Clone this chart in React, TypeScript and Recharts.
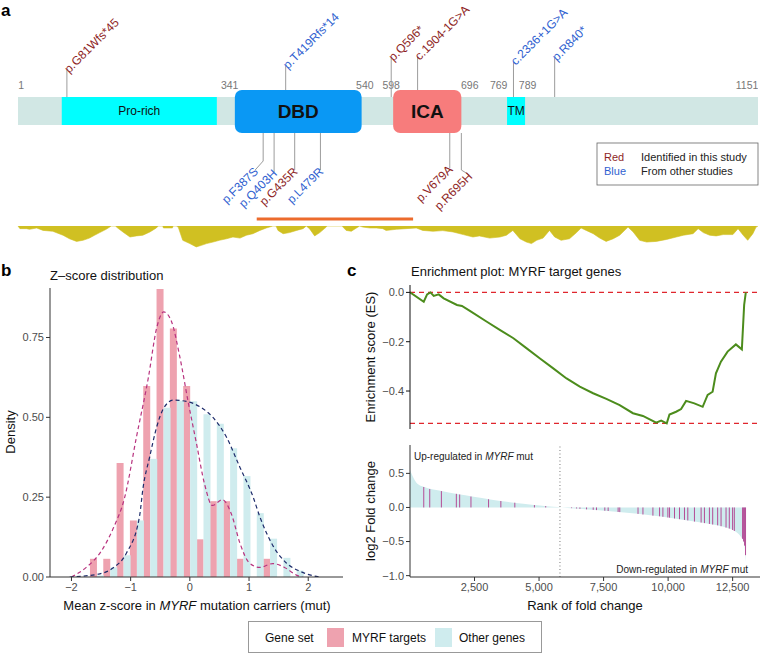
import React from 'react'
import {
  ComposedChart,
  AreaChart,
  Area,
  Bar,
  Line,
  Scatter,
  XAxis,
  YAxis,
  ReferenceArea,
  ReferenceLine,
} from 'recharts'

const FONT = '"Liberation Sans", Arial, Helvetica, sans-serif'
const RED = '#8E1F1F'
const BLUE = '#2F5FD0'
const PINK = '#EEA2AF'
const CYAN = '#CFECEE'
const AXIS_TEXT = '#4D4D4D'
const AXIS_LINE = '#333333'

// ── panel a: MYRF protein (positions in amino acids) ──
const domains = [
  { name: 'Pro-rich', start: 69, end: 310, tall: false, color: '#00FFFF' },
  { name: 'DBD', start: 338, end: 535, tall: true, color: '#0A98F4' },
  { name: 'ICA', start: 584, end: 690, tall: true, color: '#F77C7C' },
  { name: 'TM', start: 761, end: 789, tall: false, color: '#00FFFF' },
]
const boundaryText = ['1', '341', '540', '598', '696', '769', '789', '1151']
const boundaryPos = [6, 330, 540, 581, 703, 748, 793, 1134]

const mutations = [
  { label: 'p.G81Wfs*45', pos: 77, source: 'this', side: 'up' },
  { label: 'p.T419Rfs*14', pos: 417, source: 'other', side: 'up' },
  { label: 'p.Q596*', pos: 581, source: 'this', side: 'up' },
  { label: 'c.1904-1G>A', pos: 622, source: 'this', side: 'up' },
  { label: 'c.2336+1G>A', pos: 771, source: 'other', side: 'up' },
  { label: 'p.R840*', pos: 835, source: 'other', side: 'up' },
  { label: 'p.F387S', pos: 382, source: 'other', side: 'down' },
  { label: 'p.Q403H', pos: 399, source: 'other', side: 'down' },
  { label: 'p.G435R', pos: 431, source: 'this', side: 'down' },
  { label: 'p.L479R', pos: 471, source: 'other', side: 'down' },
  { label: 'p.V679A', pos: 672, source: 'this', side: 'down' },
  { label: 'p.R695H', pos: 690, source: 'this', side: 'down' },
]

// hydropathy-like track under the protein (aa, value)
const hydroPos = [
  1, 4, 14, 19, 30, 40, 55, 71, 81, 92, 102, 112, 120, 128, 138, 146, 153, 154, 164, 175, 185, 195, 206,
  216, 219, 226, 227, 241, 242, 247, 250, 257, 268, 278, 286, 294, 304, 314, 325, 335, 346, 356, 366, 377,
  387, 397, 402, 405, 413, 423, 434, 444, 449, 454, 462, 470, 480, 481, 505, 506, 511, 519, 527, 532, 537,
  548, 558, 568, 573, 589, 604, 620, 630, 646, 661, 677, 693, 708, 718, 734, 750, 760, 770, 781, 791, 799,
  807, 817, 827, 835, 845, 858, 869, 876, 884, 895, 905, 915, 926, 936, 949, 957, 967, 978, 993, 1009,
  1024, 1035, 1050, 1058, 1066, 1076, 1086, 1097, 1112, 1120, 1128, 1135, 1143, 1148, 1151,
]
const hydroValue = [
  0, -0.12, -0.12, -0.15, -0.09, -0.2, -0.24, -0.42, -0.58, -0.7, -0.65, -0.55, -0.42, -0.3, -0.15, 0, 0,
  -0.05, -0.27, -0.5, -0.45, -0.42, -0.27, -0.09, 0, 0, -0.09, -0.09, 0, 0, -0.05, -0.65, -0.8, -0.95,
  -0.88, -0.8, -0.73, -0.65, -0.58, -0.5, -0.55, -0.42, -0.35, -0.2, -0.09, 0, 0, -0.2, -0.35, -0.3,
  -0.2, -0.12, 0, -0.12, -0.45, -0.3, -0.05, 0, 0, -0.05, -0.2, -0.24, -0.09, 0, -0.05, -0.09, -0.09,
  -0.12, -0.2, -0.15, -0.12, -0.09, -0.2, -0.24, -0.21, -0.27, -0.39, -0.5, -0.45, -0.55, -0.5, -0.42,
  -0.2, -0.58, -0.73, -0.8, -0.65, -0.55, -0.2, -0.5, -0.65, -0.58, -0.3, -0.09, -0.2, -0.35, -0.55,
  -0.7, -0.58, -0.42, -0.05, -0.27, -0.65, -0.73, -0.7, -0.61, -0.5, -0.42, -0.35, -0.12, -0.3, -0.42,
  -0.45, -0.39, -0.39, -0.12, -0.42, -0.65, -0.35, -0.05, 0,
]
const focusRegion = [372, 615]

// ── panel b: z-score histogram (bin width 0.225, bin centres) + densities ──
const binMid = [
  -2.25, -2.025, -1.8, -1.575, -1.35, -1.125, -0.9, -0.675, -0.45, -0.225, 0,
  0.225, 0.45, 0.675, 0.9, 1.125, 1.35, 1.575, 1.8, 2.025, 2.25, 2.475,
]
const targetShare = [0, 0, 0, 0.057, 0.057, 0.357, 0.177, 0.598, 0.902, 0.778, 0.598, 0.118, 0.2375, 0.2375, 0.057, 0, 0.057, 0, 0, 0, 0, 0]
const otherShare = [0, 0, 0, 0.005, 0.03, 0.068, 0.177, 0.37, 0.53, 0.552, 0.55, 0.51, 0.48, 0.403, 0.316, 0.2, 0.12, 0.06, 0.02, 0, 0, 0]

const targetDensityZ = [-2, -1.75, -1.5, -1.3, -1.1, -0.9, -0.7, -0.56, -0.44, -0.31, -0.17, -0.03, 0.11, 0.25, 0.38, 0.55, 0.7, 0.85, 1, 1.18, 1.4, 1.6, 1.8, 1.9]
const targetDensity = [0, 0.03, 0.08, 0.15, 0.25, 0.44, 0.625, 0.78, 0.83, 0.8, 0.69, 0.55, 0.42, 0.29, 0.224, 0.242, 0.198, 0.104, 0.045, 0.03, 0.042, 0.03, 0.006, 0]
const otherDensityZ = [-2.03, -1.52, -1.3, -1.07, -0.85, -0.79, -0.68, -0.56, -0.45, -0.28, -0.06, 0.17, 0.39, 0.62, 0.845, 1.07, 1.18, 1.41, 1.63, 1.86, 2.08, 2.2]
const otherDensity = [0, 0.01, 0.028, 0.075, 0.19, 0.28, 0.375, 0.47, 0.526, 0.554, 0.55, 0.533, 0.5, 0.4375, 0.344, 0.25, 0.19, 0.096, 0.044, 0.018, 0.004, 0]

// ── panel c: enrichment score and ranked fold change ──
const esRank = [0, 533, 663, 791, 920, 1112, 1305, 1820, 2013, 2335, 2978, 3493, 4007, 4522, 5036, 5550, 6065, 6579, 7094, 7608, 8123, 8638, 9024, 9538, 9731, 9947, 10053, 10310, 10503, 10696, 11017, 11339, 11532, 11724, 11853, 12046, 12304, 12625, 12857, 12946, 13010]
const esValue = [0, -0.038, -0.008, 0, -0.014, -0.008, -0.024, -0.051, -0.055, -0.076, -0.119, -0.153, -0.186, -0.227, -0.268, -0.308, -0.349, -0.382, -0.409, -0.432, -0.457, -0.49, -0.501, -0.528, -0.52, -0.531, -0.495, -0.484, -0.473, -0.44, -0.45, -0.464, -0.416, -0.403, -0.328, -0.281, -0.24, -0.211, -0.231, -0.051, 0]
const esMin = -0.531

const fcRank = [0, 147, 275, 533, 1177, 1820, 2464, 3107, 3750, 4393, 5036, 5550, 5872, 6579, 7222, 7865, 8509, 9152, 9795, 10438, 11081, 11724, 12239, 12625, 12818, 12946, 13010]
const fcValue = [0.55, 0.426, 0.353, 0.304, 0.245, 0.196, 0.157, 0.118, 0.083, 0.054, 0.029, 0.01, 0, -0.02, -0.039, -0.059, -0.083, -0.108, -0.137, -0.172, -0.211, -0.25, -0.294, -0.358, -0.431, -0.529, -0.8]
const zeroCrossRank = 5810

const targetRank = [533, 765, 1216, 1795, 1924, 2362, 3044, 3520, 4061, 4820, 5257, 6261, 6454, 6583, 6840, 7098, 7226, 7548, 7677, 8063, 8127, 8834, 9025, 9411, 9669, 9798, 9991, 10055, 10248, 10441, 10634, 10763, 11020, 11279, 11407, 11600, 11727, 11920, 12051, 12244, 12371, 12499, 12565, 12885, 12924, 12962, 13000]
const targetFc = [0.3, 0.27, 0.24, 0.2, 0.19, 0.16, 0.12, 0.095, 0.07, 0.035, 0.02, -0.01, -0.015, -0.02, -0.028, -0.035, -0.039, -0.048, -0.052, -0.066, -0.068, -0.095, -0.103, -0.12, -0.13, -0.137, -0.147, -0.15, -0.162, -0.172, -0.183, -0.19, -0.207, -0.222, -0.23, -0.242, -0.25, -0.262, -0.275, -0.295, -0.31, -0.33, -0.345, -0.46, -0.5, -0.56, -0.7]

// ── layout of the schematic in panel a (pixel rows) ──
const ROW = { top: 97, bottom: 125, tallTop: 90, tallBottom: 133, coords: 89 }
const stemTips: Record<string, { y: number; dx?: number; dy?: number }> = {
  'p.G81Wfs*45': { y: 70 },
  'p.T419Rfs*14': { y: 66 },
  'p.Q596*': { y: 58 },
  'c.1904-1G>A': { y: 57 },
  'c.2336+1G>A': { y: 62 },
  'p.R840*': { y: 58 },
  'p.F387S': { y: 161, dx: -8, dy: 9 },
  'p.Q403H': { y: 172 },
  'p.G435R': { y: 170 },
  'p.L479R': { y: 170 },
  'p.V679A': { y: 168 },
  'p.R695H': { y: 170, dx: 8, dy: 5 },
}

const minus = (digits: number) => (v: number) => (v < 0 ? '\u2212' : '') + Math.abs(v).toFixed(digits)
const tickStyle = { fontSize: 11, fill: AXIS_TEXT }

const inTall = (pos: number) => domains.some((d) => d.tall && pos >= d.start && pos <= d.end)

function MutationMark(props: any) {
  const { cx, cy, payload } = props
  if (cx == null || cy == null) return null
  const tip = stemTips[payload.label]
  const up = payload.side === 'up'
  const pts: number[][] = [[cx, cy], [cx, tip.y]]
  if (tip.dx) pts.push([cx + tip.dx, tip.y + (tip.dy || 0)])
  const [tx, ty] = pts[pts.length - 1]
  return (
    <g>
      <polyline points={pts.map((p) => p.join(',')).join(' ')} fill="none" stroke="#9C9C9C" strokeWidth={1} />
      <text
        x={tx}
        y={ty}
        dx={up ? -1 : 1}
        dy="0.35em"
        transform={`rotate(-45 ${tx} ${ty})`}
        textAnchor={up ? 'start' : 'end'}
        fontSize={12}
        fill={payload.source === 'this' ? RED : BLUE}
      >
        {payload.label}
      </text>
    </g>
  )
}

function CoordMark(props: any) {
  const { cx, cy, payload } = props
  if (cx == null || cy == null) return null
  return (
    <text x={cx} y={cy} textAnchor="middle" fontSize={10.5} fill="#777">
      {payload.text}
    </text>
  )
}

function ProteinPanel() {
  const muts = mutations.map((m) => ({
    ...m,
    y: m.side === 'up'
      ? (inTall(m.pos) ? ROW.tallTop : ROW.top)
      : (inTall(m.pos) ? ROW.tallBottom : ROW.bottom),
  }))
  const coords = boundaryPos.map((pos, i) => ({ pos, y: ROW.coords, text: boundaryText[i] }))
  return (
    <ComposedChart width={764} height={260} margin={{ top: 0, right: 6, bottom: 0, left: 18 }}>
      <XAxis type="number" dataKey="pos" domain={[1, 1151]} allowDataOverflow hide />
      <YAxis type="number" dataKey="y" domain={[0, 260]} reversed allowDataOverflow hide />
      <ReferenceArea x1={1} x2={1151} y1={ROW.top} y2={ROW.bottom} fill="#D1E7E4" fillOpacity={1} stroke="none" />
      {domains.map((d) => (
        <ReferenceArea
          key={d.name}
          x1={d.start}
          x2={d.end}
          y1={d.tall ? ROW.tallTop : ROW.top}
          y2={d.tall ? ROW.tallBottom : ROW.bottom}
          shape={(p: any) => (
            <rect x={p.x} y={p.y} width={p.width} height={p.height} rx={d.tall ? 7 : 0} fill={d.color} />
          )}
          label={{
            value: d.name,
            position: 'center',
            fill: '#111',
            fontSize: d.tall ? 19 : 12,
            fontWeight: d.tall ? 'bold' : 'normal',
          }}
        />
      ))}
      <ReferenceLine
        segment={[{ x: focusRegion[0], y: 219 }, { x: focusRegion[1], y: 219 }]}
        stroke="#EC6B2D"
        strokeWidth={3}
      />
      <Scatter data={coords} shape={<CoordMark />} isAnimationActive={false} />
      <Scatter data={muts} shape={<MutationMark />} isAnimationActive={false} />
    </ComposedChart>
  )
}

function HydroTrack() {
  const data = hydroPos.map((pos, i) => ({ pos, v: hydroValue[i] }))
  return (
    <AreaChart width={764} height={32} data={data} margin={{ top: 5, right: 6, bottom: 5, left: 18 }}>
      <XAxis type="number" dataKey="pos" domain={[1, 1151]} hide />
      <YAxis type="number" domain={[-1, 0]} allowDataOverflow hide />
      <Area type="linear" dataKey="v" baseValue={0} fill="#D0C022" fillOpacity={1} stroke="#D0C022" strokeWidth={0.6} isAnimationActive={false} />
    </AreaChart>
  )
}

function ZScorePanel() {
  const bins = binMid.map((z, i) => ({ z, bin: String(z), targets: targetShare[i], others: otherShare[i] }))
  const tDens = targetDensityZ.map((z, i) => ({ z, d: targetDensity[i] }))
  const oDens = otherDensityZ.map((z, i) => ({ z, d: otherDensity[i] }))
  return (
    <ComposedChart
      width={350}
      height={320}
      data={bins}
      barGap={0}
      barCategoryGap={0}
      margin={{ top: 8, right: 7, bottom: 0, left: 0 }}
    >
      <XAxis xAxisId="bin" type="category" dataKey="bin" orientation="top" height={0} hide />
      <XAxis
        xAxisId="z"
        type="number"
        dataKey="z"
        domain={[-2.3625, 2.5875]}
        ticks={[-2, -1, 0, 1, 2]}
        allowDataOverflow
        tickFormatter={minus(0)}
        tick={tickStyle}
        tickSize={4}
        stroke={AXIS_LINE}
        height={23}
      />
      <YAxis
        type="number"
        domain={[0, 0.905]}
        ticks={[0, 0.25, 0.5, 0.75]}
        allowDataOverflow
        tickFormatter={(v: number) => v.toFixed(2)}
        tick={tickStyle}
        tickSize={4}
        stroke={AXIS_LINE}
        width={50}
      />
      <Bar xAxisId="bin" dataKey="targets" fill={PINK} isAnimationActive={false} />
      <Bar xAxisId="bin" dataKey="others" fill={CYAN} isAnimationActive={false} />
      <Line xAxisId="z" data={tDens} dataKey="d" type="monotone" stroke="#B8337F" strokeWidth={1.2} strokeDasharray="4 3" dot={false} isAnimationActive={false} />
      <Line xAxisId="z" data={oDens} dataKey="d" type="monotone" stroke="#1E2C6B" strokeWidth={1.2} strokeDasharray="4 3" dot={false} isAnimationActive={false} />
    </ComposedChart>
  )
}

function EnrichmentPanel() {
  const data = esRank.map((rank, i) => ({ rank, es: esValue[i] }))
  return (
    <ComposedChart width={404} height={152} data={data} margin={{ top: 8, right: 4, bottom: 0, left: 0 }}>
      <XAxis type="number" dataKey="rank" domain={[0, 13560]} allowDataOverflow tick={false} tickLine={false} stroke="#111" height={0} />
      <YAxis
        type="number"
        domain={[-0.554, 0.03]}
        ticks={[0, -0.2, -0.4]}
        allowDataOverflow
        tickFormatter={minus(1)}
        tick={tickStyle}
        tickSize={4}
        stroke="#111"
        width={50}
      />
      <ReferenceLine y={0} stroke="#E0262D" strokeDasharray="5 4" strokeWidth={1.1} />
      <ReferenceLine y={esMin} stroke="#E0262D" strokeDasharray="5 4" strokeWidth={1.1} />
      <Line dataKey="es" type="linear" stroke="#4C8C1C" strokeWidth={2} dot={false} isAnimationActive={false} />
    </ComposedChart>
  )
}

function FoldChangePanel() {
  const data = fcRank.map((rank, i) => ({ rank, fc: fcValue[i] }))
  return (
    <ComposedChart width={404} height={164} data={data} margin={{ top: 8, right: 4, bottom: 0, left: 0 }}>
      <XAxis
        type="number"
        dataKey="rank"
        domain={[0, 13560]}
        ticks={[2500, 5000, 7500, 10000, 12500]}
        allowDataOverflow
        tickFormatter={(v: number) => v.toLocaleString('en-US')}
        tick={tickStyle}
        tickSize={4}
        stroke={AXIS_LINE}
        height={24}
      />
      <YAxis
        type="number"
        domain={[-1.02, 0.916]}
        ticks={[0.5, 0, -0.5, -1]}
        allowDataOverflow
        tickFormatter={minus(1)}
        tick={tickStyle}
        tickSize={4}
        stroke={AXIS_LINE}
        width={50}
      />
      <Area type="monotone" dataKey="fc" baseValue={0} fill={CYAN} fillOpacity={1} stroke="none" isAnimationActive={false} />
      {targetRank.map((r, i) => (
        <ReferenceLine key={r} segment={[{ x: r, y: 0 }, { x: r, y: targetFc[i] }]} stroke="#B44C96" strokeWidth={1} />
      ))}
      <ReferenceLine x={zeroCrossRank} stroke="#777" strokeDasharray="1 2.5" />
    </ComposedChart>
  )
}

function Overlay() {
  const t = { fontFamily: FONT }
  return (
    <svg width={764} height={654} style={{ position: 'absolute', left: 0, top: 0, pointerEvents: 'none' }}>
      <g style={t}>
        {/* panel letters */}
        <text x={1} y={16} fontSize={17} fontWeight="bold">a</text>
        <text x={1} y={276} fontSize={17} fontWeight="bold">b</text>
        <text x={347} y={276} fontSize={17} fontWeight="bold">c</text>

        {/* panel a key */}
        <rect x={597} y={143} width={161} height={42} fill="#fff" stroke="#666" strokeWidth={0.8} />
        <text x={604} y={161} fontSize={11} fill={RED}>Red</text>
        <text x={641} y={161} fontSize={11} fill="#222">Identified in this study</text>
        <text x={604} y={175} fontSize={11} fill={BLUE}>Blue</text>
        <text x={641} y={175} fontSize={11} fill="#222">From other studies</text>

        {/* panel b */}
        <text x={50} y={280} fontSize={13} fill="#111">Z–score distribution</text>
        <text transform="translate(15 432) rotate(-90)" textAnchor="middle" fontSize={13} fill="#111">Density</text>
        <text x={197} y={610} textAnchor="middle" fontSize={13} fill="#111">
          Mean z-score in <tspan fontStyle="italic">MYRF</tspan> mutation carriers (mut)
        </text>

        {/* panel c */}
        <text x={411} y={276} fontSize={13} fill="#111">Enrichment plot: MYRF target genes</text>
        <text transform="translate(375 357) rotate(-90)" textAnchor="middle" fontSize={13} fill="#111">Enrichment score (ES)</text>
        <text transform="translate(375 511) rotate(-90)" textAnchor="middle" fontSize={13} fill="#111">log2 Fold change</text>
        <text x={414} y={460} fontSize={10} fill="#222">
          Up-regulated in <tspan fontStyle="italic">MYRF</tspan> mut
        </text>
        <text x={748} y={573} textAnchor="end" fontSize={10} fill="#222">
          Down-regulated in <tspan fontStyle="italic">MYRF</tspan> mut
        </text>
        <text x={585} y={610} textAnchor="middle" fontSize={13} fill="#111">Rank of fold change</text>

        {/* gene set legend */}
        <rect x={248.5} y={621.5} width={293} height={31} fill="#fff" stroke="#999" strokeWidth={1} />
        <text x={265} y={642} fontSize={12} fill="#111">Gene set</text>
        <rect x={327} y={628} width={17} height={19} fill={PINK} />
        <text x={352} y={642} fontSize={12} fill="#111">MYRF targets</text>
        <rect x={435} y={628} width={17} height={19} fill={CYAN} />
        <text x={459} y={642} fontSize={12} fill="#111">Other genes</text>
      </g>
    </svg>
  )
}

export default function App() {
  return (
    <div style={{ position: 'absolute', left: 0, top: 0, width: 764, height: 654, background: '#fff', fontFamily: FONT }}>
      <div style={{ position: 'absolute', left: 0, top: 0 }}>
        <ProteinPanel />
      </div>
      <div style={{ position: 'absolute', left: 0, top: 221 }}>
        <HydroTrack />
      </div>
      <div style={{ position: 'absolute', left: 0, top: 280 }}>
        <ZScorePanel />
      </div>
      <div style={{ position: 'absolute', left: 360, top: 277 }}>
        <EnrichmentPanel />
      </div>
      <div style={{ position: 'absolute', left: 360, top: 437 }}>
        <FoldChangePanel />
      </div>
      <Overlay />
    </div>
  )
}
